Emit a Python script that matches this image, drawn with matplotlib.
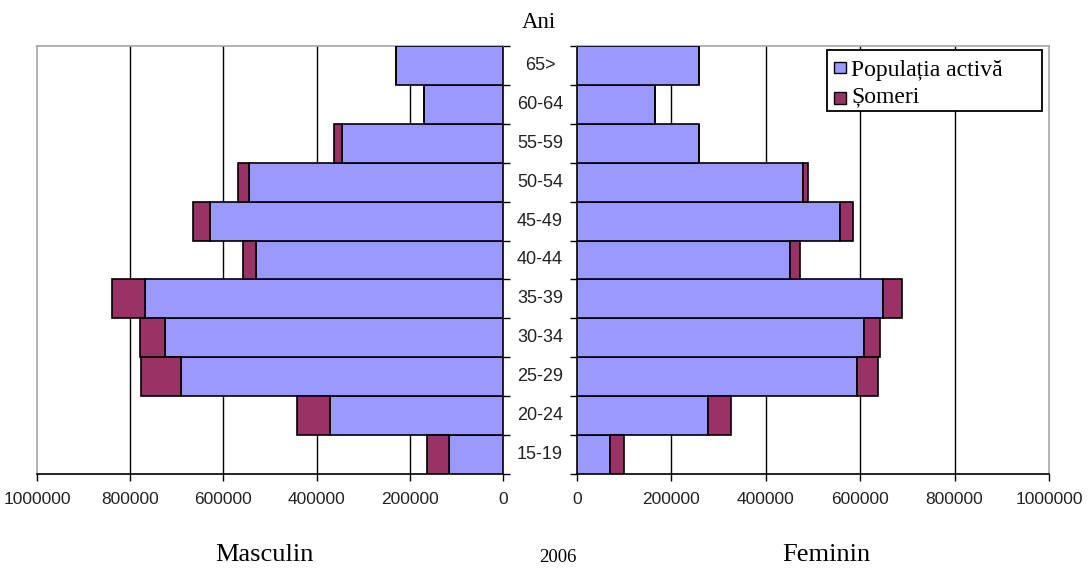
import matplotlib
matplotlib.use("Agg")
import matplotlib.pyplot as plt
import matplotlib.transforms as mtransforms
from matplotlib.patches import Rectangle
import numpy as np

# Age groups, bottom to top
age_groups = ["15-19", "20-24", "25-29", "30-34", "35-39", "40-44",
              "45-49", "50-54", "55-59", "60-64", "65>"]

# Men: active population and unemployed
male_active = [116000, 372000, 690000, 725000, 768000, 529000,
               628000, 546000, 346000, 170000, 230000]
male_unemployed = [47000, 69000, 86000, 53000, 71000, 30000,
                   37000, 22000, 17000, 0, 0]

# Women: active population and unemployed
female_active = [70000, 278000, 594000, 607000, 648000, 452000,
                 558000, 478000, 259000, 166000, 259000]
female_unemployed = [30000, 49000, 43000, 34000, 40000, 21000,
                     26000, 12000, 0, 0, 0]

x_ticks = [0, 200000, 400000, 600000, 800000, 1000000]
legend_labels = ["Populația activă", "Șomeri"]

c_active = "#9999FF"
c_unemp = "#993366"
grey = "#A6A6A6"
W, H = 1089, 568


def fx(px):
    return px / W


def fy(py):
    return 1 - py / H


fig = plt.figure(figsize=(W / 100, H / 100), dpi=100)
axL = fig.add_axes([fx(37), fy(474), 466 / W, 428 / H])
axR = fig.add_axes([fx(577), fy(474), 472 / W, 428 / H])

y = np.arange(len(age_groups))

for ax, act, une in ((axL, male_active, male_unemployed),
                     (axR, female_active, female_unemployed)):
    ax.barh(y, act, height=1.0, color=c_active, edgecolor="black",
            linewidth=1.2, zorder=3)
    ax.barh(y, une, left=act, height=1.0, color=c_unemp, edgecolor="black",
            linewidth=1.2, zorder=3)
    ax.set_ylim(-0.5, len(age_groups) - 0.5)
    ax.set_xlim(0, 1000000)
    ax.set_xticks(x_ticks)
    ax.set_xticklabels([str(t) for t in x_ticks], fontsize=12.5,
                       family="Liberation Sans", color="#222222")
    for t in x_ticks[1:-1]:
        ax.axvline(t, color="black", linewidth=1.0, zorder=1)
    ax.set_yticks(np.arange(-0.5, len(age_groups), 1.0))
    ax.set_yticklabels([])
    ax.tick_params(axis="x", direction="out", length=5, width=1, pad=8,
                   color="black")
    ax.tick_params(axis="y", direction="out", length=5, width=1,
                   color="black")
    ax.spines["bottom"].set_color("black")
    ax.spines["bottom"].set_linewidth(1.2)
    ax.spines["top"].set_color(grey)
    ax.spines["top"].set_linewidth(1.2)

# Left panel: values grow to the left, category axis on its right side
axL.invert_xaxis()
axL.yaxis.tick_right()
axL.spines["right"].set_color("black")
axL.spines["right"].set_linewidth(1.2)
axL.spines["left"].set_color(grey)
axL.spines["left"].set_linewidth(1.2)

axR.spines["left"].set_color("black")
axR.spines["left"].set_linewidth(1.2)
axR.spines["right"].set_color(grey)
axR.spines["right"].set_linewidth(1.2)

# Age group labels between the two panels
trans = mtransforms.blended_transform_factory(fig.transFigure, axL.transData)
for yi, lab in zip(y, age_groups):
    fig.text(fx(540), yi, lab, transform=trans, ha="center", va="center",
             fontsize=13, family="Liberation Sans", color="#222222")

fig.text(fx(539), fy(22), "Ani", ha="center", va="center",
         fontsize=16.5, family="Liberation Serif")
fig.text(fx(264), fy(561), "Masculin", ha="center", va="baseline",
         fontsize=19, family="Liberation Serif")
fig.text(fx(826), fy(561), "Feminin", ha="center", va="baseline",
         fontsize=19, family="Liberation Serif")
fig.text(fx(558), fy(562), "2006", ha="center", va="baseline",
         fontsize=13.5, family="Liberation Serif")

# Legend box with colour keys
fig.add_artist(Rectangle((fx(827), fy(111)), (1042 - 827) / W, (111 - 50) / H,
                         transform=fig.transFigure, facecolor="white",
                         edgecolor="black", linewidth=1.3, zorder=10))
for (top, bot, base), col, lab in zip([(62, 73, 76), (92, 104, 102)],
                                      [c_active, c_unemp], legend_labels):
    fig.add_artist(Rectangle((fx(834), fy(bot)), 12 / W, (bot - top) / H,
                             transform=fig.transFigure, facecolor=col,
                             edgecolor="black", linewidth=1.0, zorder=11))
    fig.text(fx(851), fy(base), lab, ha="left", va="baseline",
             fontsize=17, family="Liberation Serif", zorder=12)

fig.savefig("out.png", dpi=100)
